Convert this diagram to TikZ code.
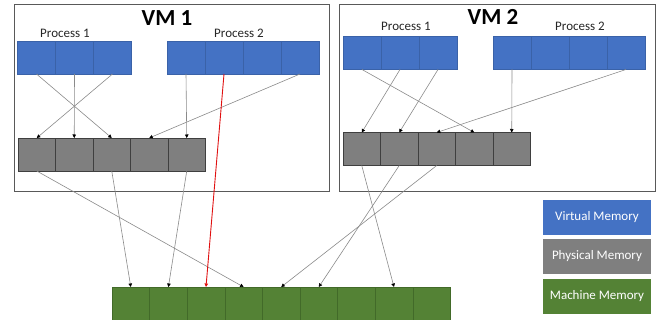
\documentclass[tikz,border=0pt]{standalone}
\usepackage{fontspec}
\setmainfont{Carlito}
\usetikzlibrary{arrows.meta}
\definecolor{vblue}{HTML}{4472C4}
\definecolor{vblueline}{HTML}{3A62A8}
\definecolor{pgray}{HTML}{7F7F7F}
\definecolor{pgrayline}{HTML}{3F3F3F}
\definecolor{mgreen}{HTML}{548235}
\definecolor{mgreenline}{HTML}{426A29}
\definecolor{frameline}{HTML}{595959}
\definecolor{linkgray}{HTML}{8A8A8A}
\definecolor{linkred}{HTML}{E01010}
\tikzset{
  cell/.style={rectangle, inner sep=0pt, outer sep=0pt, line width=0.6pt},
  vcell/.style={cell, fill=vblue, draw=vblueline, minimum width=38pt, minimum height=33pt},
  pcell/.style={cell, fill=pgray, draw=pgrayline, minimum width=37.5pt, minimum height=33pt},
  mcell/.style={cell, fill=mgreen, draw=mgreenline, minimum width=37.6pt, minimum height=35pt},
  vmframe/.style={draw=frameline, line width=0.8pt},
  vmtitle/.style={font=\fontsize{23}{26}\selectfont\bfseries, inner sep=0pt},
  proclabel/.style={font=\fontsize{13}{15}\selectfont, text=black!85, inner sep=0pt},
  legendbox/.style={rectangle, inner sep=0pt, minimum width=108pt, minimum height=35pt,
    text=white, font=\fontsize{13}{15}\selectfont},
  link/.style={draw=linkgray, line width=0.6pt, -{Triangle[length=3.5pt,width=3.5pt,color=black]}},
  redlink/.style={draw=linkred, line width=0.9pt, -{Triangle[length=3.5pt,width=3.5pt,color=linkred]}},
}
\begin{document}
\begin{tikzpicture}[x=1pt,y=-1pt]
\useasboundingbox (0,0) rectangle (659,320);

% VM frames
\draw[vmframe] (14,4) rectangle (329.5,191.5);
\draw[vmframe] (339.5,4) rectangle (655,191.5);

% titles and process labels
\node[vmtitle] (t1) at (167,18) {VM 1};
\node[vmtitle] (t2) at (493,17) {VM 2};
\node[proclabel] (l11) at (65,33) {Process 1};
\node[proclabel] (l12) at (239,33) {Process 2};
\node[proclabel] (l21) at (406,26) {Process 1};
\node[proclabel] (l22) at (580,26) {Process 2};

% VM 1 virtual pages
\foreach \i in {1,...,3} \node[vcell] (aa\i) at ({36.5+38*(\i-1)},57.5) {};
\foreach \i in {1,...,4} \node[vcell] (ab\i) at ({186+38*(\i-1)},57.5) {};
% VM 1 physical pages
\foreach \i in {1,...,5} \node[pcell] (ap\i) at ({36.75+37.5*(\i-1)},154.5) {};

% VM 2 virtual pages
\foreach \i in {1,...,3} \node[vcell] (ba\i) at ({362+38*(\i-1)},53) {};
\foreach \i in {1,...,4} \node[vcell] (bb\i) at ({512+38*(\i-1)},53) {};
% VM 2 physical pages
\foreach \i in {1,...,5} \node[pcell] (bp\i) at ({361.75+37.5*(\i-1)},149) {};

% machine pages
\foreach \i in {1,...,9} \node[mcell] (m\i) at ({130.8+37.6*(\i-1)},304.5) {};

% legend
\node[legendbox, fill=vblue] (lgv) at (597,217.5) {Virtual Memory};
\node[legendbox, fill=pgray] (lgp) at (597,256.5) {Physical Memory};
\node[legendbox, fill=mgreen] (lgm) at (597,296.5) {Machine Memory};

% VM 1 virtual -> physical
\draw[link] (aa1.south) -- (ap3.north);
\draw[link] (aa2.south) -- (ap2.north);
\draw[link] (aa3.south) -- (ap1.north);
\draw[link] (ab1.south) -- (ap5.north);
\draw[link] (ab4.south) -- (ap4.north);

% VM 2 virtual -> physical
\draw[link] (ba1.south) -- (bp4.north);
\draw[link] (ba2.south) -- (bp1.north);
\draw[link] (ba3.south) -- (bp2.north);
\draw[link] (bb1.south) -- (bp5.north);
\draw[link] (bb4.south) -- (bp3.north);

% physical -> machine
\draw[link] (ap1.south) -- (m4.north);
\draw[link] (ap3.south) -- (m1.north);
\draw[link] (ap5.south) -- (m2.north);
\draw[link] (bp1.south) -- (m8.north);
\draw[link] (bp2.south) -- (m6.north);
\draw[link] (bp3.south) -- (m5.north);

% highlighted mapping
\draw[redlink] (ab2.south) -- (m3.north);
\end{tikzpicture}
\end{document}
